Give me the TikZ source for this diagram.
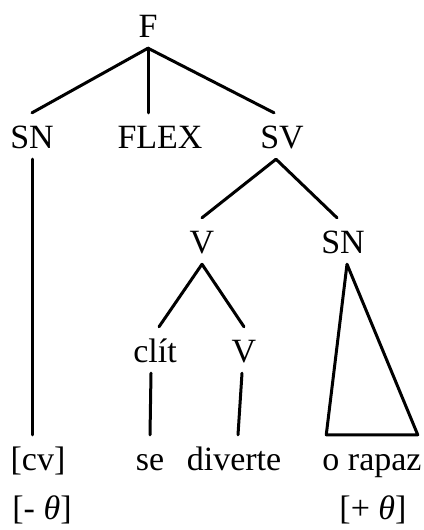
\documentclass[tikz,border=0pt]{standalone}
\usepackage{fontspec}
\setmainfont{Liberation Serif}

\tikzset{
	knoten/.style={
        font=\fontsize{34}{40}\selectfont, anchor=base,
        text height=24pt, text depth=0pt, inner xsep=2pt, inner ysep=11pt
	},
	ast/.style={black, line width=3pt, line cap=round, line join=round}
}

\begin{document}
\begin{tikzpicture}[x=1pt,y=-1pt]
\useasboundingbox (0,0) rectangle (423,530);
%Knoten
\node[knoten] (F) at (148,37) {F};

\node[knoten] (SN) at (32,148) {SN};
\node[knoten] (FLEX) at (160,148) {FLEX};
\node[knoten] (SV) at (282,148) {SV};

\node[knoten] (V) at (202,253) {V};
\node[knoten] (SNb) at (343,253) {SN};

\node[knoten] (clit) at (155,362) {clít};
\node[knoten] (Vb) at (244,362) {V};

\node[knoten] (cv) at (38,470) {[cv]};
\node[knoten] (se) at (150,470) {se};
\node[knoten] (diverte) at (234,470) {diverte};
\node[knoten, inner xsep=-4pt] (orapaz) at (372,470) {o rapaz};

\node[knoten] (thetaA) at (42,519) {[- \textit{θ}]};
\node[knoten] (thetaB) at (373,519) {[+ \textit{θ}]};

%Kanten
\draw[ast] (F.south) -- (SN.north);
\draw[ast] (F.south) -- (F.south |- FLEX.north);
\draw[ast] (F.south) -- ([xshift=-8pt]SV.north);

\draw[ast] ([xshift=-6pt]SV.south) -- (V.north);
\draw[ast] ([xshift=-6pt]SV.south) -- ([xshift=-6pt]SNb.north);

\draw[ast] (V.south) -- ([xshift=4pt]clit.north);
\draw[ast] (V.south) -- (Vb.north);

\draw[ast] (SN.south) -- (SN.south |- cv.north);
\draw[ast] ([xshift=-4pt]clit.south) -- (se.north);
\draw[ast] ([xshift=-2pt]Vb.south) -- ([xshift=4pt]diverte.north);

%Dreieck
\draw[ast] ([xshift=4pt]SNb.south) -- (orapaz.north west) -- (orapaz.north east) -- cycle;
\end{tikzpicture}
\end{document}
